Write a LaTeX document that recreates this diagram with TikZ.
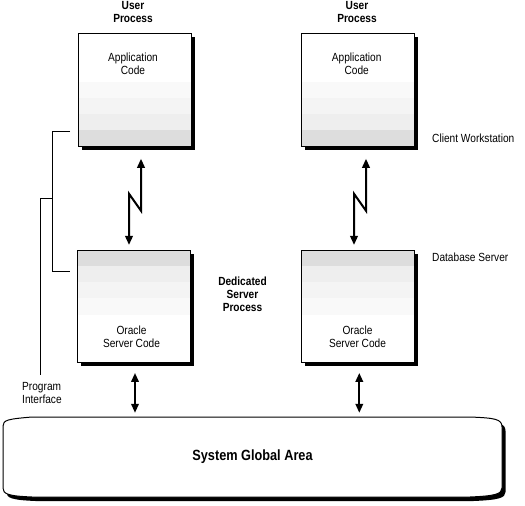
\documentclass[tikz,border=0pt]{standalone}
\usepackage{fontspec}
\setmainfont{Liberation Sans}[FakeStretch=0.86]
\usetikzlibrary{arrows.meta,shadows,calc}
\definecolor{bandA}{HTML}{DDDDDD}
\definecolor{bandB}{HTML}{EEEEEE}
\definecolor{bandC}{HTML}{F4F4F4}
\definecolor{bandD}{HTML}{F9F9F9}
\begin{document}
\begin{tikzpicture}[x=1pt,y=-1pt,
  box/.style={draw=black, line width=1pt, fill=white, minimum width=113pt,
    minimum height=112.5pt, inner sep=0pt,
    drop shadow={shadow xshift=3.5pt, shadow yshift=-3.5pt, fill=black, opacity=1}},
  clientbox/.style={box, path picture={
    \fill[bandA] (path picture bounding box.south west) rectangle ([yshift=16pt]path picture bounding box.south east);
    \fill[bandB] ([yshift=16pt]path picture bounding box.south west) rectangle ([yshift=32pt]path picture bounding box.south east);
    \fill[bandC] ([yshift=32pt]path picture bounding box.south west) rectangle ([yshift=48pt]path picture bounding box.south east);
    \fill[bandD] ([yshift=48pt]path picture bounding box.south west) rectangle ([yshift=64pt]path picture bounding box.south east);}},
  serverbox/.style={box, path picture={
    \fill[bandA] (path picture bounding box.north west) rectangle ([yshift=-16pt]path picture bounding box.north east);
    \fill[bandB] ([yshift=-16pt]path picture bounding box.north west) rectangle ([yshift=-32pt]path picture bounding box.north east);
    \fill[bandC] ([yshift=-32pt]path picture bounding box.north west) rectangle ([yshift=-48pt]path picture bounding box.north east);
    \fill[bandD] ([yshift=-48pt]path picture bounding box.north west) rectangle ([yshift=-65pt]path picture bounding box.north east);}},
  lbl/.style={font=\fontsize{11.8}{12.5}\selectfont, align=center, inner sep=0pt},
  blbl/.style={font=\fontsize{11.8}{12.8}\selectfont\bfseries, align=center, inner sep=0pt},
  sidelbl/.style={font=\fontsize{11.8}{13.5}\selectfont, align=left, inner sep=0pt, anchor=north west},
  commarr/.style={line width=2pt, {Triangle[length=9pt,width=7.5pt]}-{Triangle[length=9pt,width=7.5pt]}},
  thin/.style={line width=1pt}
]
\useasboundingbox (0,0) rectangle (525,506);

% boxes
\node[clientbox] (app1) at (134.5,90) {};
\node[clientbox] (app2) at (358.3,90) {};
\node[serverbox] (srv1) at (134,306.7) {};
\node[serverbox] (srv2) at (358.3,306.7) {};

% System Global Area
\fill[black] (6.5,430) .. controls (6.5,424) and (11.5,423) .. (35.5,421) -- (473.5,421)
  .. controls (498.5,422) and (505.5,423) .. (505.5,431) -- (505.5,492)
  .. controls (505.5,498) and (498.5,500) .. (473.5,501) -- (35.5,501)
  .. controls (11.5,500) and (6.5,498) .. (6.5,492) -- cycle;
\draw[thin, fill=white] (3,426) .. controls (3,420) and (8,419) .. (32,417) -- (470,417)
  .. controls (495,418) and (502,419) .. (502,427) -- (502,488)
  .. controls (502,494) and (495,496) .. (470,497) -- (32,497)
  .. controls (8,496) and (3,494) .. (3,488) -- cycle;
\node[minimum width=499pt, minimum height=80pt, inner sep=0pt,
  font=\fontsize{14.8}{16}\selectfont\bfseries] (sga) at (252.5,457) {System Global Area};

% labels
\node[blbl, anchor=north] (up1) at (133,1.5) {User\\Process};
\node[blbl, anchor=north] (up2) at (357,1.5) {User\\Process};
\node[lbl, anchor=north] (ac1) at (133,53) {Application\\Code};
\node[lbl, anchor=north] (ac2) at (356.7,53) {Application\\Code};
\node[lbl, anchor=north] (sc1) at (131.5,326) {Oracle\\Server Code};
\node[lbl, anchor=north] (sc2) at (357.5,326) {Oracle\\Server Code};
\node[blbl, anchor=north] (dsp) at (242.5,277) {Dedicated\\Server\\Process};
\node[sidelbl] (cw) at (432,133.5) {Client Workstation};
\node[sidelbl] (ds) at (432,253) {Database Server};
\node[sidelbl] (pi) at (22,382) {Program\\Interface};

% communication arrows (zigzag)
\draw[commarr] ([xshift=6.5pt,yshift=-12pt]app1.south) -- ++(0,52) -- ++(-12,-17)
  -- ([xshift=-5pt,yshift=5pt]srv1.north);
\draw[commarr] ([xshift=7.7pt,yshift=-12pt]app2.south) -- ++(0,52) -- ++(-12,-17)
  -- ([xshift=-4.3pt,yshift=5pt]srv2.north);

% server to SGA
\draw[commarr, shorten >=4pt] ([xshift=1pt,yshift=-9.5pt]srv1.south) -- ([xshift=1pt]srv1.south |- sga.north);
\draw[commarr, shorten >=4pt] ([xshift=1pt,yshift=-9.5pt]srv2.south) -- ([xshift=1pt]srv2.south |- sga.north);

% program interface brackets
\coordinate (bt) at (70,131);
\coordinate (bb) at (70,271);
\coordinate (bm) at (52,198);
\coordinate (pe) at (40,375);
\draw[thin] (bt) -- ++(-18,0) |- (bb);
\draw[thin] (bm) -| (pe);
\end{tikzpicture}
\end{document}
